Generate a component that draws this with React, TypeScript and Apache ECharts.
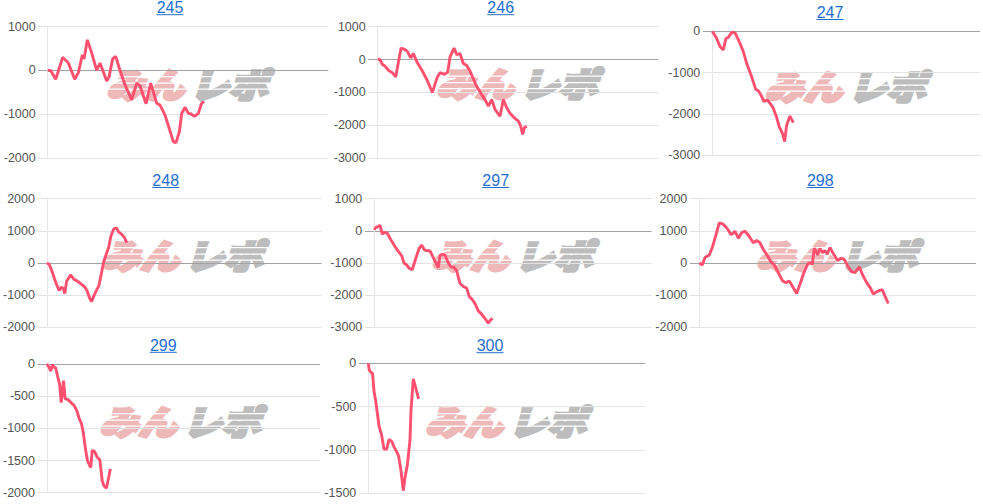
import React, { useEffect, useRef } from 'react';
import * as echarts from 'echarts';

const titles = ['245', '246', '247', '248', '297', '298', '299', '300'];

// x: game position along each panel's axis, y: difference value
const x245 = [0, 9, 24, 45, 62, 81, 92, 104, 109, 119, 132, 147, 157, 177, 184, 195, 204, 217, 232, 252, 267, 277, 295, 309, 327, 337, 352, 377, 385, 395, 402, 412, 422, 429, 440, 452, 461, 469];
const y245 = [0, 0, -200, 300, 170, -200, -50, 360, 260, 700, 400, 0, 170, -240, -150, 270, 320, 0, -330, -670, -290, -350, -760, -290, -750, -790, -1020, -1630, -1650, -1400, -980, -840, -980, -990, -1050, -980, -760, -710];

const x246 = [0, 7, 14, 22, 32, 44, 54, 70, 82, 89, 99, 107, 119, 134, 147, 164, 179, 187, 200, 210, 217, 229, 237, 247, 257, 267, 277, 294, 312, 322, 332, 342, 352, 367, 377, 387, 397, 410, 422, 429, 435, 440, 447];
const y246 = [0, 0, -150, -200, -330, -400, -530, 350, 300, 250, 50, 180, -100, -350, -600, -1000, -530, -400, -450, -390, 80, 350, 150, 180, -120, -180, -350, -760, -1070, -1220, -1420, -1220, -1520, -1730, -1220, -1470, -1640, -1780, -1880, -2030, -2280, -2080, -2030];

const x247 = [0, 13, 23, 33, 41, 48, 56, 63, 70, 83, 93, 103, 118, 130, 138, 146, 155, 165, 173, 183, 193, 201, 211, 217, 223, 233, 236, 243];
const y247 = [0, -170, -370, -450, -170, -150, -50, -20, -60, -290, -490, -770, -1100, -1400, -1440, -1540, -1700, -1660, -1740, -1860, -2080, -2310, -2480, -2670, -2270, -2050, -2100, -2210];

const x248 = [0, 7, 17, 27, 37, 44, 50, 54, 60, 72, 82, 95, 107, 115, 122, 129, 135, 142, 150, 157, 165, 172, 179, 187, 194, 202, 210, 217, 227, 235, 242];
const y248 = [0, -40, -300, -610, -850, -750, -790, -950, -560, -370, -510, -580, -680, -750, -870, -1080, -1200, -1030, -850, -720, -330, 40, 250, 480, 840, 1050, 1100, 970, 890, 790, 630];

const x297 = [0, 4, 10, 17, 24, 30, 39, 47, 59, 72, 82, 89, 97, 104, 114, 124, 134, 142, 150, 159, 167, 177, 185, 192, 197, 204, 212, 222, 230, 239, 247, 257, 267, 277, 285, 295, 304, 312, 322, 335, 342, 349, 355];
const y297 = [30, 100, 130, 170, -100, -50, -70, -230, -440, -640, -770, -1000, -1060, -1160, -1210, -870, -560, -440, -590, -620, -620, -830, -1000, -1140, -770, -730, -750, -1000, -1110, -1140, -1240, -1630, -1730, -1780, -2040, -2150, -2300, -2490, -2590, -2770, -2870, -2770, -2720];

const x298 = [0, 9, 17, 30, 39, 49, 60, 70, 80, 87, 95, 100, 107, 117, 127, 137, 149, 162, 172, 182, 192, 205, 215, 225, 237, 250, 260, 270, 282, 292, 302, 312, 325, 332, 339, 345, 355, 362, 370, 377, 384, 392, 402, 415, 425, 435, 445, 457, 467, 480, 489, 502, 514, 522, 532, 542, 549, 557, 567];
const y298 = [0, -60, 170, 250, 480, 840, 1250, 1220, 1120, 1020, 890, 910, 990, 770, 940, 990, 840, 630, 700, 630, 420, 220, 40, -60, -300, -560, -610, -560, -770, -950, -660, -350, -40, 10, -40, 460, 250, 450, 320, 390, 270, 480, 290, 80, 150, 110, -90, -270, -300, -120, -350, -610, -790, -970, -890, -850, -830, -1030, -1260];

const x299 = [0, 7, 12, 17, 22, 27, 34, 39, 44, 51, 56, 64, 74, 84, 92, 99, 106, 112, 119, 124, 134, 139, 146, 154, 162, 169, 174, 182, 187, 194];
const y299 = [0, -50, -110, -10, -50, -60, -210, -310, -600, -260, -540, -550, -600, -650, -730, -850, -930, -1090, -1350, -1500, -1610, -1340, -1360, -1450, -1490, -1810, -1890, -1930, -1810, -1630];

const x300 = [0, 3, 7, 13, 17, 22, 27, 32, 40, 47, 55, 62, 70, 78, 85, 91, 98, 105, 110, 117, 125, 128, 135, 142, 151];
const y300 = [0, -80, -100, -120, -320, -430, -570, -720, -830, -990, -990, -880, -900, -970, -1020, -1070, -1240, -1470, -1320, -1180, -890, -550, -180, -280, -410];

const xData = [x245, x246, x247, x248, x297, x298, x299, x300];
const yData = [y245, y246, y247, y248, y297, y298, y299, y300];

const yMin = [-2000, -3000, -3000, -2000, -3000, -2000, -2000, -1500];
const yMax = [1000, 1000, 0, 2000, 1000, 2000, 0, 0];
const yStep = [1000, 1000, 1000, 1000, 1000, 1000, 500, 500];
const xMax = [842, 842, 803, 832, 832, 830, 834, 830];

// layout (pixels)
const plotLeft = [47.7, 377.7, 712.3, 44.3, 374.3, 699.3, 42, 368.3];
const plotTop = [26.7, 26.7, 31.3, 198.7, 198.7, 198.7, 364, 363.3];
const plotBottom = [158, 158, 155.3, 327.3, 327.3, 327.3, 492.7, 493.3];
const titleX = [170, 500.7, 830, 165.7, 495.7, 820.3, 163.3, 490];
const titleY = [7.7, 7.7, 12.5, 180.5, 180.5, 180.5, 345.3, 345.7];
const markY = [83, 82.5, 85, 254, 254, 254, 420, 420];

const LINE = '#ff5070';
const LINK = '#1f6fd0';
const EXT = 9.5;
const FONT = 'Arial, "Liberation Sans", sans-serif';
const PINK = '#efb8b8';
const GREY = '#bdbdbd';

export default function App() {
  const ref = useRef<HTMLDivElement>(null);
  useEffect(() => {
    if (!ref.current) return;
    const chart = echarts.init(ref.current, undefined, { renderer: 'svg' });
    const grid: any[] = [];
    const xAxis: any[] = [];
    const yAxis: any[] = [];
    const series: any[] = [];
    const graphic: any[] = [];
    titles.forEach((t, i) => {
      const n = Math.round((yMax[i] - yMin[i]) / yStep[i]) + 1;
      const colors: string[] = [];
      for (let k = 0; k < n; k++) {
        colors.push(yMin[i] + k * yStep[i] === 0 ? '#a3a3a3' : '#e3e3e3');
      }
      grid.push({
        left: plotLeft[i] - EXT,
        top: plotTop[i],
        width: (xMax[i] + EXT * 3) / 3,
        height: plotBottom[i] - plotTop[i],
      });
      xAxis.push({ gridIndex: i, type: 'value', min: -EXT * 3, max: xMax[i], show: false });
      yAxis.push({
        gridIndex: i,
        type: 'value',
        min: yMin[i],
        max: yMax[i],
        interval: yStep[i],
        offset: -EXT,
        axisLine: { show: true, lineStyle: { color: '#e6e6e6', width: 1 } },
        axisTick: { show: false },
        axisLabel: {
          margin: EXT + 2.5,
          color: '#555',
          fontSize: 12.5,
          fontFamily: FONT,
          formatter: (v: number) => String(v),
        },
        splitLine: { show: true, lineStyle: { color: colors, width: 1 } },
      });
      series.push({
        type: 'line',
        xAxisIndex: i,
        yAxisIndex: i,
        data: xData[i].map((x, k) => [x, yData[i][k]]),
        showSymbol: false,
        symbol: 'none',
        silent: true,
        z: 3,
        lineStyle: { color: LINE, width: 2.9 },
        itemStyle: { color: LINE },
      });
      graphic.push({
        type: 'text',
        x: titleX[i],
        y: titleY[i],
        style: { text: t, fill: LINK, font: '16px ' + FONT, textAlign: 'center', textVerticalAlign: 'middle' },
      });
      graphic.push({
        type: 'line',
        shape: { x1: titleX[i] - 13.5, y1: titleY[i] + 7, x2: titleX[i] + 13.5, y2: titleY[i] + 7 },
        style: { stroke: LINK, lineWidth: 1 },
      });
      const cx = plotLeft[i] + xMax[i] / 6;
      const wmFont = 'italic 900 34px "Noto Sans CJK JP", "Noto Sans CJK SC", sans-serif';
      graphic.push({
        type: 'text',
        x: cx - 4,
        y: markY[i],
        z: -2,
        scaleX: 1.14,
        style: {
          text: 'みん',
          fill: PINK,
          stroke: PINK,
          lineWidth: 3.2,
          font: wmFont,
          textAlign: 'right',
          textVerticalAlign: 'middle',
        },
      });
      graphic.push({
        type: 'text',
        x: cx + 2,
        y: markY[i],
        z: -2,
        scaleX: 1.14,
        style: {
          text: 'レポ',
          fill: GREY,
          stroke: GREY,
          lineWidth: 3.2,
          font: wmFont,
          textAlign: 'left',
          textVerticalAlign: 'middle',
        },
      });
      [-7, -0.5, 5.5].forEach((dy) => {
        graphic.push({
          type: 'rect',
          z: -1,
          shape: { x: cx - 85, y: markY[i] + dy, width: 170, height: 1.2 },
          style: { fill: '#ffffff' },
        });
      });
    });
    chart.setOption({
      animation: false,
      backgroundColor: '#ffffff',
      grid,
      xAxis,
      yAxis,
      series,
      graphic: { elements: graphic },
    });
    return () => chart.dispose();
  }, []);
  return <div ref={ref} style={{ position: 'fixed', left: 0, top: 0, width: 983, height: 504 }} />;
}
